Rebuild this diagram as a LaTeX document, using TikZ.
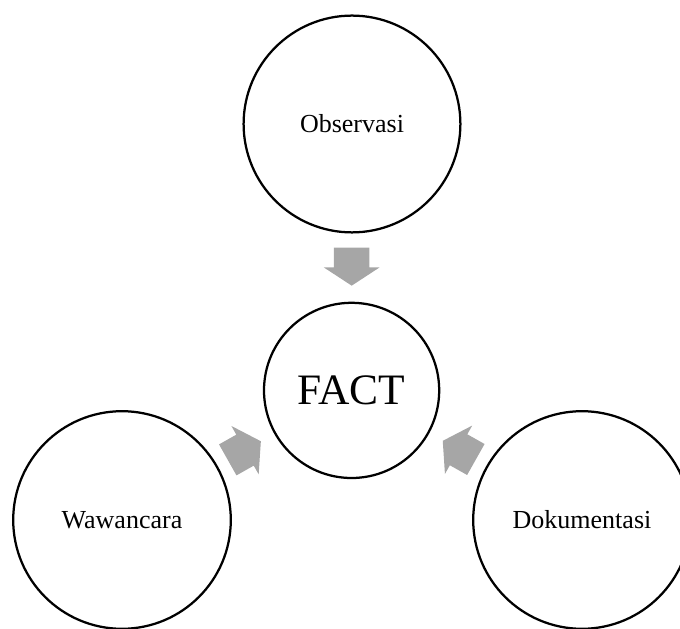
\documentclass[tikz,border=0pt]{standalone}
\usepackage{fontspec}
\setmainfont{Liberation Serif}
\usetikzlibrary{calc,shapes.arrows}
\definecolor{arrowgray}{HTML}{A6A6A6}
\tikzset{every node/.style={font=\fontsize{18.5}{22}\selectfont},
  source/.style={circle,draw=black,line width=1.6pt,inner sep=0pt},
  blockarrow/.style={single arrow,fill=arrowgray,draw=none,inner xsep=0pt,
    inner ysep=.4375cm,minimum height=.95cm,single arrow head extend=.25cm,
    single arrow head indent=0pt,single arrow tip angle=113.6,anchor=tip}}
\begin{document}
\begin{tikzpicture}
\useasboundingbox(0,0)rectangle(17,15.7);
% sumber data
\node[source,minimum size=5.42cm](obs)at(8.8,12.6){Observasi};
\node[source,minimum size=5.44cm](waw)at(3.05,2.7){Wawancara};
\node[source,minimum size=5.44cm](dok)at(14.55,2.7){Dokumentasi};
\node[source,minimum size=4.38cm,font=\fontsize{30.9}{36}\selectfont](fact)at(8.79,5.94){FACT};
% panah ke FACT
\node[blockarrow,rotate=-90](a1)at($(fact.north)!.23!(obs.south)$){};
\node[blockarrow,rotate=29.4](a2)at($(fact.209.4)!.23!(waw.29.4)$){};
\node[blockarrow,rotate=150.6](a3)at($(fact.-29.4)!.23!(dok.150.6)$){};
\end{tikzpicture}
\end{document}
